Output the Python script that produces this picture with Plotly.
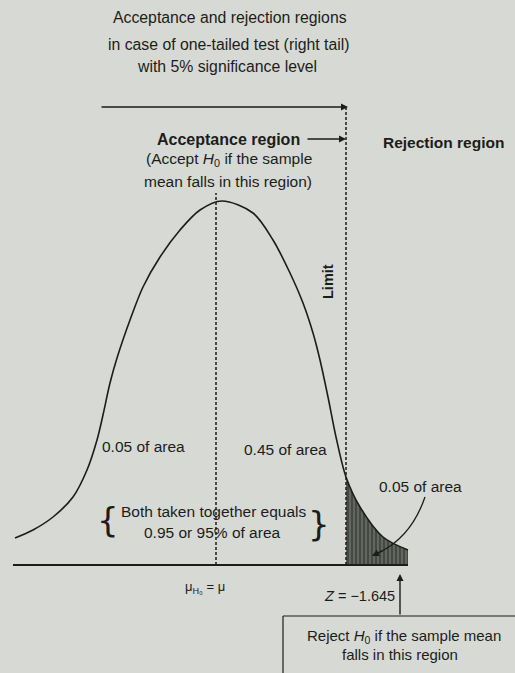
import plotly.graph_objects as go

# ---- data (x position, height above baseline) ----
curve_x = [15, 33, 53, 73, 87, 97, 103, 110, 117, 130, 143, 160, 180, 200,
           222, 253, 273, 290, 303, 313, 320, 328, 336, 346, 360, 383, 408]
curve_y = [27, 35, 48, 68, 95, 125, 150, 182, 207, 245, 278, 308, 335, 355,
           364, 352, 325, 292, 262, 232, 205, 168, 128, 88, 58, 28, 15]

mean_x = 216
limit_x = 346
limit_label = "Z = \u22121.645"

shade_x = [x for x in curve_x if x >= limit_x]
shade_y = [y for x, y in zip(curve_x, curve_y) if x >= limit_x]

INK = "#1c1d1b"
BG = "#d7d9d4"
FONT = "Liberation Sans, Arial, sans-serif"

fig = go.Figure()

# shaded rejection region (hatched)
fig.add_trace(go.Scatter(
    x=shade_x, y=shade_y, mode="lines", line=dict(width=0, shape="spline"),
    fill="tozeroy", fillcolor="#4b4f49",
    fillpattern=dict(shape="|", bgcolor="#454943", fgcolor="#a7aba2",
                     size=4, solidity=0.3),
    hoverinfo="skip", showlegend=False))

# bell curve
fig.add_trace(go.Scatter(
    x=curve_x, y=curve_y, mode="lines",
    line=dict(color=INK, width=1.6, shape="spline", smoothing=0.9),
    hoverinfo="skip", showlegend=False))

# baseline
fig.add_shape(type="line", x0=curve_x[0] - 2, x1=curve_x[-1], y0=0, y1=0,
              line=dict(color=INK, width=2))
# mean dashed line
fig.add_shape(type="line", x0=mean_x, x1=mean_x, y0=0, y1=372,
              line=dict(color=INK, width=1.5, dash="3px,2px"))
# limit dashed line
fig.add_shape(type="line", x0=limit_x, x1=limit_x, y0=0, y1=460,
              line=dict(color=INK, width=1.5, dash="3px,2px"))
# box lines around bottom note
fig.add_shape(type="line", x0=283, x1=515, y0=-51, y1=-51,
              line=dict(color=INK, width=1.2))
fig.add_shape(type="line", x0=283, x1=283, y0=-51, y1=-110,
              line=dict(color=INK, width=1.2))
# curved pointer for right 0.05 of area
fig.add_shape(type="path", path="M 425,68 Q 412,30 382,14",
              line=dict(color=INK, width=1.3))

def arrow(x0, y0, x1, y1, size=1.0):
    fig.add_annotation(x=x1, y=y1, ax=x0, ay=y0, xref="x", yref="y",
                       axref="x", ayref="y", text="", showarrow=True,
                       arrowhead=2, arrowsize=size, arrowwidth=1.4,
                       arrowcolor=INK)

arrow(100, 458, limit_x + 2, 458)
arrow(306, 426, limit_x, 426)
arrow(384, 15, 372, 9)
arrow(400, -51, 400, -9)

def txt(x, y, s, size=14, bold=False, angle=0, family=FONT):
    fig.add_annotation(x=x, y=y, xref="x", yref="y", showarrow=False,
                       text=("<b>%s</b>" % s) if bold else s, textangle=angle,
                       font=dict(family=family, size=size, color=INK))

txt(230, 548, "Acceptance and rejection regions", 15.8)
txt(228, 521, "in case of one-tailed test (right tail)", 15.8)
txt(227, 499, "with 5% significance level", 15.8)
txt(228, 426, "Acceptance region", 16, bold=True)
txt(443, 423, "Rejection region", 15.5, bold=True)
txt(229, 406, "(Accept <i>H</i><sub>0</sub> if the sample", 15.5)
txt(228, 384, "mean falls in this region)", 15.5)
txt(328, 283, "Limit", 14.5, bold=True, angle=-90)
txt(143, 119, "0.05 of area", 15.5)
txt(285, 116, "0.45 of area", 15.5)
txt(420, 79, "0.05 of area", 15.5)
txt(214, 54, "Both taken together equals", 15.5)
txt(212, 33, "0.95 or 95% of area", 15.5)
txt(108, 45, "{", 34, family="DejaVu Sans")
txt(319, 41, "}", 34, family="DejaVu Sans")
txt(205, -22, "\u03bc<sub>H\u2080</sub> = \u03bc", 13)
txt(359, -31, limit_label.replace("Z", "<i>Z</i>"), 14.5)
txt(404, -71, "Reject <i>H</i><sub>0</sub> if the sample mean", 15)
txt(400, -89, "falls in this region", 15)

fig.update_layout(
    width=515, height=673, margin=dict(l=0, r=0, t=0, b=0),
    paper_bgcolor=BG, plot_bgcolor=BG,
    xaxis=dict(range=[0, 515], visible=False, fixedrange=True),
    yaxis=dict(range=[-108, 565], visible=False, fixedrange=True),
)

fig.write_html("out.html", config={"displayModeBar": False},
               post_script="document.body.style.margin='0';"
                           "document.body.style.background='%s';" % BG)
